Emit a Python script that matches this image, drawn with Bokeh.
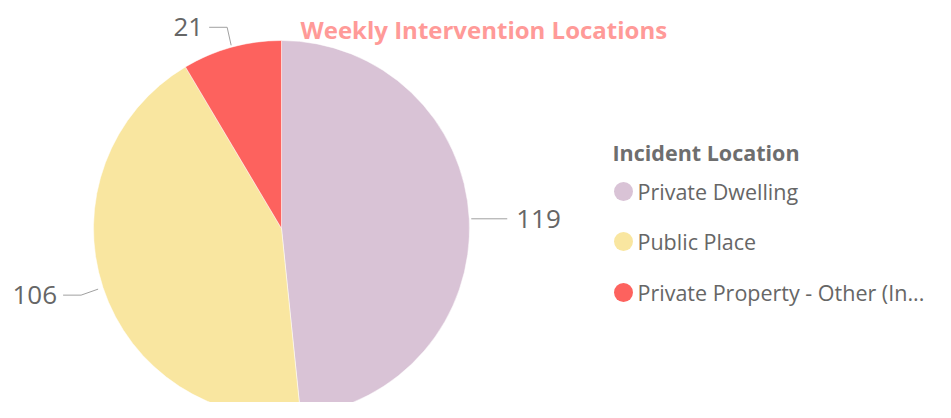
import numpy as np
from bokeh.plotting import figure
from bokeh.models import Range1d
from bokeh.core.properties import value
from bokeh.embed import file_html
from bokeh.resources import INLINE

# ---- data ----
categories = ["Private Dwelling", "Public Place", "Private Property - Other (In..."]
counts = [119, 106, 21]
colors = ["#D9C3D6", "#F9E6A0", "#FD625E"]
title_text = "Weekly Intervention Locations"
legend_title = "Incident Location"

W, H = 935, 402
# data coordinates: x = reference pixel x, y = 418 - reference pixel y
p = figure(width=W, height=H, output_backend="svg", toolbar_location=None,
           x_range=Range1d(0, W), y_range=Range1d(418 - H, 418),
           min_border=0, outline_line_color=None)
p.axis.visible = False
p.grid.visible = False
p.background_fill_color = "white"

FONT = "Open Sans"
cx, cy, r = 281, 418 - 228, 188

vals = np.array(counts, dtype=float)
frac = vals / vals.sum()
c1 = np.cumsum(frac)
c0 = c1 - frac
start = np.pi / 2 - c1 * 2 * np.pi
end = np.pi / 2 - c0 * 2 * np.pi
p.wedge(x=[cx] * len(vals), y=[cy] * len(vals), radius=r,
        start_angle=list(start), end_angle=list(end), direction="anticlock",
        fill_color=colors, line_color="white", line_width=0.5)

# data labels with leader lines
mid = (start + end) / 2
ax = cx + r * np.cos(mid)
ay = cy + r * np.sin(mid)
lc = "#A0A0A0"
labcol = "#666666"
LFS = "26px"
for i, v in enumerate(counts):
    a = mid[i] % (2 * np.pi)
    px_, py_ = ax[i] + 2 * np.cos(a), ay[i] + 2 * np.sin(a)
    if np.cos(a) > 0.5:  # right side
        xs = [px_, px_ + 36]
        ys = [py_, py_]
        p.line(xs, ys, line_color=lc, line_width=1)
        p.text([xs[-1] + 9], [ys[-1]], text=[str(v)], text_font=value(FONT),
               text_font_size=LFS, text_color=labcol, text_baseline="middle",
               text_align="left")
    elif np.sin(a) > 0.8:  # top
        xs = [px_, px_ - 4, px_ - 22]
        ys = [py_, py_ + 18, py_ + 18]
        p.line(xs, ys, line_color=lc, line_width=1)
        p.text([xs[-1] - 6], [ys[-1]], text=[str(v)], text_font=value(FONT),
               text_font_size=LFS, text_color=labcol, text_baseline="middle",
               text_align="right")
    else:  # left
        xs = [px_ - 3, px_ - 20, px_ - 38]
        ys = [py_ - 1, py_ - 7, py_ - 7]
        p.line(xs, ys, line_color=lc, line_width=1)
        p.text([xs[-1] - 6], [ys[-1]], text=[str(v)], text_font=value(FONT),
               text_font_size=LFS, text_color=labcol, text_baseline="middle",
               text_align="right")

# title
p.text([300], [418 - 29], text=[title_text], text_font=value(FONT),
       text_font_size="24px", text_font_style="bold", text_color="#FF9A98",
       text_baseline="middle", text_align="left")

# legend
p.text([612], [418 - 152], text=[legend_title], text_font=value(FONT),
       text_font_size="21.5px", text_font_style="bold", text_color="#6E6E6E",
       text_baseline="middle", text_align="left")
ly = [418 - 191, 418 - 241, 418 - 292]
p.scatter([623] * 3, ly, size=19, marker="circle", fill_color=colors, line_color=None)
p.text([637] * 3, ly, text=categories, text_font=value(FONT),
       text_font_size="21.5px", text_color="#666666",
       text_baseline="middle", text_align="left")

open("out.html", "w").write(file_html(p, INLINE))
